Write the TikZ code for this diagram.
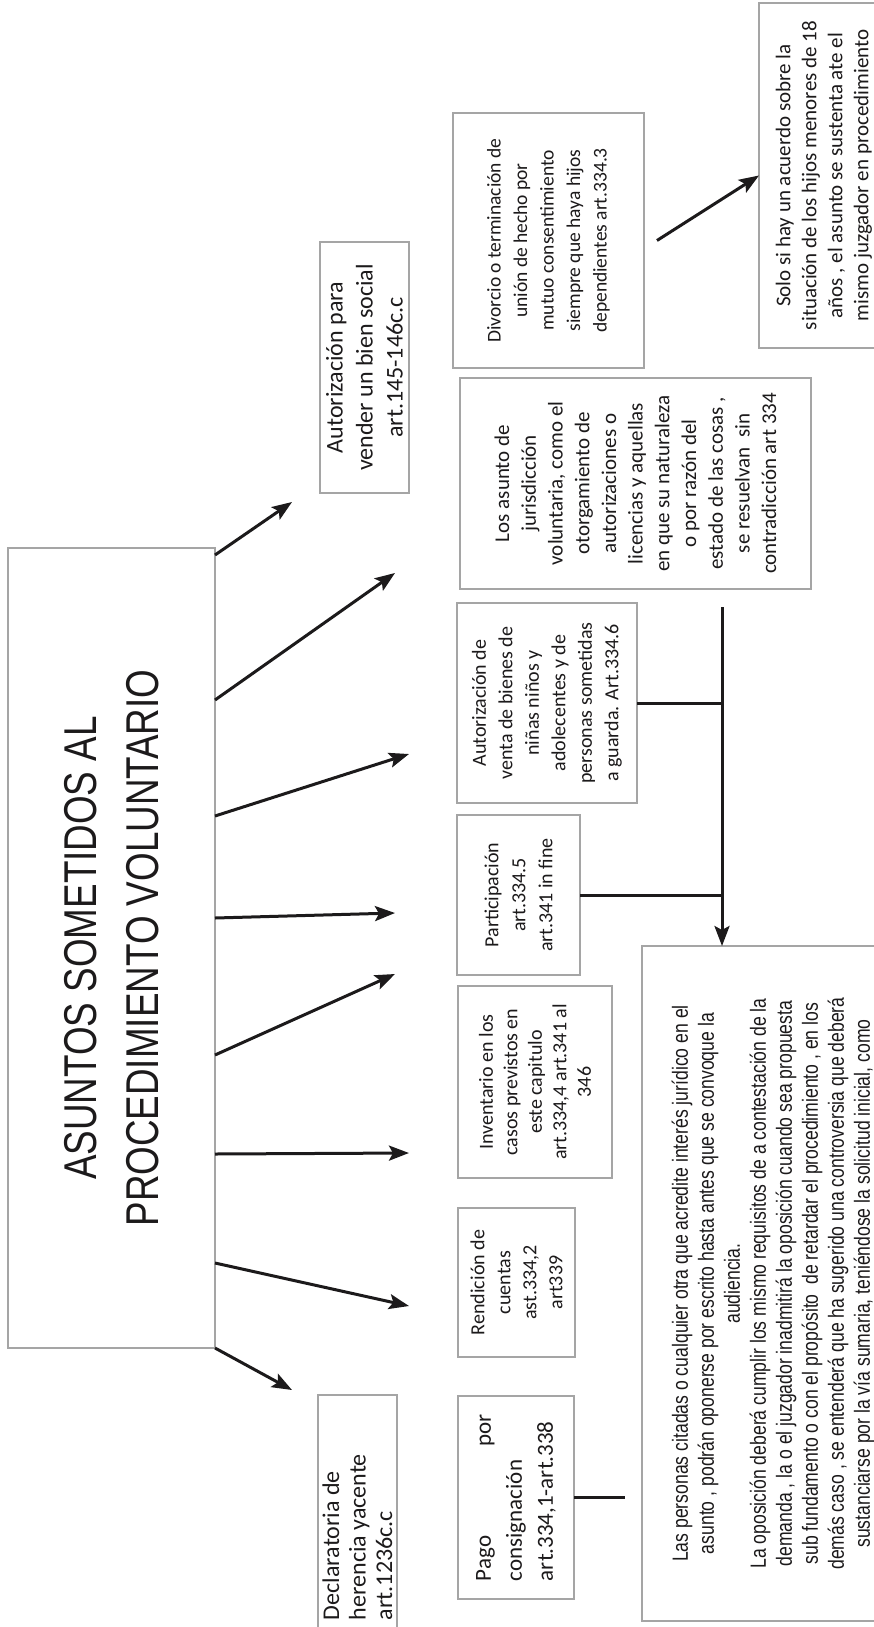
\documentclass[tikz,border=0pt]{standalone}
\usepackage{fontspec}
\usepackage{graphicx}
\setmainfont{Carlito}
\newfontfamily\condfont[FakeStretch=0.8]{Liberation Sans}
\usetikzlibrary{arrows.meta,calc}

\definecolor{framegray}{RGB}{165,165,165}
\definecolor{inkblack}{RGB}{28,26,27}

% text block set upright, then turned to read upwards
\newcommand{\upblock}[3]{\rotatebox{90}{\parbox{#1}{#2\selectfont #3}}}

\begin{document}
\begin{tikzpicture}[x=1pt, y=-1pt,
  box/.style={draw=framegray, line width=2.6pt, fill=white, inner sep=0pt, outer sep=0pt, text=inkblack},
  arr/.style={draw=inkblack, line width=3pt, -{Stealth[length=20pt, width=15pt, inset=4pt]}},
  link/.style={draw=inkblack, line width=3pt},
]
\useasboundingbox (0,0) rectangle (874,1627);
\fill[white] (0,0) rectangle (874,1627);
\clip (0,0) rectangle (874,1627);

% title box
\node[box, minimum width=207pt, minimum height=800pt] (main) at (111.5,948)
  {\upblock{760pt}{\centering\condfont\fontsize{46}{62}}{ASUNTOS SOMETIDOS AL\\PROCEDIMIENTO VOLUNTARIO}};

% boxes of the first column
\node[box, minimum width=89pt, minimum height=251pt] (bien) at (364.5,367.5)
  {\upblock{245pt}{\centering\fontsize{24}{30}}{Autorización para\\vender un bien social\\art.145-146c.c}};

\node[box, minimum width=79pt, minimum height=255pt] (herencia) at (357.5,1522.5)
  {\upblock{195pt}{\raggedright\fontsize{24}{26.5}}{Declaratoria de\\herencia yacente\\art.1236c.c}};

% boxes of the second column
\node[box, minimum width=191pt, minimum height=255pt] (divorcio) at (548.5,240.5)
  {\upblock{248pt}{\centering\fontsize{19.5}{26.5}}{Divorcio o terminación de\\unión de hecho por\\mutuo consentimiento\\siempre que haya hijos\\dependientes art.334.3}};

\node[box, minimum width=130pt, minimum height=345pt] (solo) at (824,175.5)
  {\upblock{339pt}{\centering\fontsize{21}{26}}{Solo si hay un acuerdo sobre la\\situación de los hijos menores de 18\\años , el asunto se sustenta ate el\\mismo juzgador en procedimiento}};

\node[box, minimum width=351pt, minimum height=211pt] (asunto) at (635.5,483.5)
  {\upblock{205pt}{\centering\fontsize{21}{26.7}}{Los asunto de\\jurisdicción\\voluntaria, como el\\otorgamiento de\\autorizaciones o\\licencias y aquellas\\en que su naturaleza\\o por razón del\\estado de las cosas ,\\se resuelvan~ sin\\contradicción art 334}};

\node[box, minimum width=180pt, minimum height=200pt] (venta) at (547,703)
  {\upblock{194pt}{\centering\fontsize{20}{26.5}}{Autorización de\\venta de bienes de\\niñas niños y\\adolecentes y de\\personas sometidas\\a guarda. Art.334.6}};

\node[box, minimum width=123pt, minimum height=160pt] (particion) at (518.5,895)
  {\upblock{154pt}{\centering\fontsize{20}{27}}{Participación\\art.334.5\\art.341 in fine}};

\node[box, minimum width=154pt, minimum height=192pt] (inventario) at (535,1082)
  {\upblock{186pt}{\centering\fontsize{20}{24.5}}{Inventario en los\\casos previstos en\\este capitulo\\art.334,4 art.341 al\\346}};

\node[box, minimum width=117pt, minimum height=149pt] (cuentas) at (516.5,1282.5)
  {\upblock{143pt}{\centering\fontsize{20}{26}}{Rendición de\\cuentas\\ast.334,2\\art339}};

\node[box, minimum width=116pt, minimum height=203pt] (pago) at (516,1497.5)
  {\upblock{167pt}{\raggedright\fontsize{23}{31}}{Pago\hfill por\\consignación\\art.334,1-art.338}};

% opposition box
\node[box, minimum width=262pt, minimum height=675pt] (oposicion) at (773,1283.5)
  {\upblock{668pt}{\centering\condfont\fontsize{22}{26}}{Las personas citadas o cualquier otra que acredite interés jurídico en el\\asunto , podrán oponerse por escrito hasta antes que se convoque la\\audiencia.\\La oposición deberá cumplir los mismo requisitos de a contestación de la\\demanda , la o el juzgador inadmitirá la oposición cuando sea propuesta\\sub fundamento o con el propósito~ de retardar el procedimiento , en los\\demás caso , se entenderá que ha sugerido una controversia que deberá\\sustanciarse por la vía sumaria, teniéndose la solicitud inicial, como}};

% arrows leaving the title box
\foreach \i/\dy/\ex/\ey in {1/7/292/502, 2/152/395/573, 3/268/409/754, 4/370/395/913,
                            5/507/395/974, 6/606/409/1153, 7/715/409/1306, 8/800/292/1390} {
  \coordinate (tip\i) at (\ex,\ey);
  \draw[arr] ($(main.north east)+(0,\dy)$) -- (tip\i);
}

% divorce case to its condition
\draw[arr] ([xshift=13pt]divorcio.east) -- (solo.west);

% collector leading to the opposition box
\coordinate (hub) at (722,607);
\draw[arr] (hub) -- (hub |- oposicion.north);
\draw[link] (venta.east) -- (venta.east -| hub);
\draw[link] (particion.east) -- (particion.east -| hub);

% short line after the payment box
\coordinate (pagoend) at (625,1497.5);
\draw[link] (pago.east) -- (pagoend);
\end{tikzpicture}
\end{document}
